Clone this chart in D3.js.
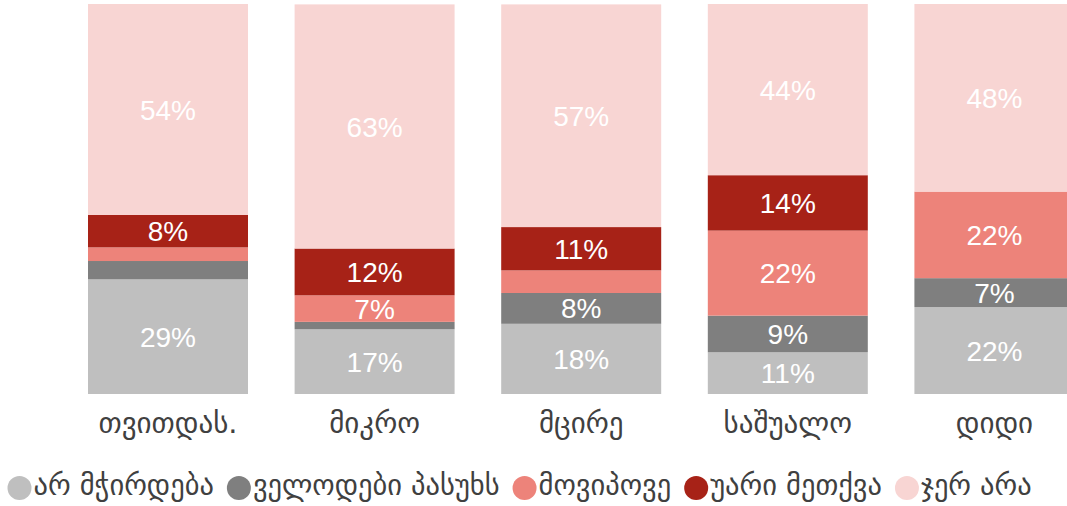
<!DOCTYPE html>
<html>
<head>
<meta charset="utf-8">
<script src="https://cdn.jsdelivr.net/npm/d3@7"></script>
<style>
  html, body { margin: 0; padding: 0; background: #fff; }
  svg { display: block; }
</style>
</head>
<body>
<svg id="chart" width="1067" height="506"></svg>
<script>
const categories = ["თვითდას.", "მიკრო", "მცირე", "საშუალო", "დიდი"];
const seriesNames = ["არ მჭირდება", "ველოდები პასუხს", "მოვიპოვე", "უარი მეთქვა", "ჯერ არა"];
const notNeeded = [29.4, 16.6, 18.0, 10.7, 22.3];
const waiting   = [4.7, 1.9, 7.9, 9.4, 7.4];
const obtained  = [3.5, 6.8, 5.8, 21.8, 22.2];
const refused   = [8.3, 12.0, 11.1, 14.2, 0];
const notYet    = [54.1, 62.6, 57.1, 43.9, 48.1];
const colors = ["#BFBFBF", "#7F7F7F", "#ED837A", "#A72217", "#F8D5D3"];

const seriesValues = [notNeeded, waiting, obtained, refused, notYet];
const rows = categories.map((c, i) => {
  const r = { cat: c };
  seriesNames.forEach((s, j) => r[s] = seriesValues[j][i]);
  return r;
});

const svg = d3.select("#chart");
const x = d3.scaleBand().domain(categories).range([64.7, 1097.7]).paddingInner(0.2256).paddingOuter(0.1128);
const y = d3.scaleLinear().domain([0, 100]).range([394, 4]);

const stack = d3.stack().keys(seriesNames);
const stacked = stack(rows);

const g = svg.append("g");
stacked.forEach((layer, j) => {
  const lg = g.append("g").attr("fill", colors[j]);
  lg.selectAll("rect").data(layer).join("rect")
    .attr("x", d => x(d.data.cat))
    .attr("width", x.bandwidth())
    .attr("y", d => y(d[1]))
    .attr("height", d => Math.max(0, y(d[0]) - y(d[1])));
});

stacked.forEach((layer, j) => {
  g.append("g").selectAll("text").data(layer.filter(d => (d[1] - d[0]) >= 6.5)).join("text")
    .attr("x", d => x(d.data.cat) + x.bandwidth() / 2)
    .attr("y", d => (y(d[0]) + y(d[1])) / 2)
    .attr("dy", "0.36em")
    .attr("text-anchor", "middle")
    .attr("font-family", "Liberation Sans, Arial, sans-serif")
    .attr("font-size", 28)
    .attr("fill", "#ffffff")
    .text(d => Math.round(d[1] - d[0]) + "%");
});

// category axis labels
const xAxis = d3.axisBottom(x).tickSize(0).tickPadding(0);
const ax = svg.append("g").attr("transform", "translate(0,410)").call(xAxis);
ax.select(".domain").remove();
ax.selectAll("text")
  .attr("font-family", "DejaVu Sans, sans-serif")
  .attr("font-size", 29)
  .attr("fill", "#404040")
  .attr("dy", "0.79em");

// legend
const legend = svg.append("g").attr("transform", "translate(0,488)");
let cx = 7.5;
seriesNames.forEach((s, j) => {
  const item = legend.append("g");
  item.append("circle").attr("cx", cx + 12).attr("cy", 0).attr("r", 12).attr("fill", colors[j]);
  const t = item.append("text")
    .attr("x", cx + 26)
    .attr("y", 0)
    .attr("dy", "0.25em")
    .attr("font-family", "DejaVu Sans, sans-serif")
    .attr("font-size", 28.5)
    .attr("fill", "#404040")
    .text(s);
  cx = cx + 26 + t.node().getComputedTextLength() + 13;
});
</script>
</body>
</html>
